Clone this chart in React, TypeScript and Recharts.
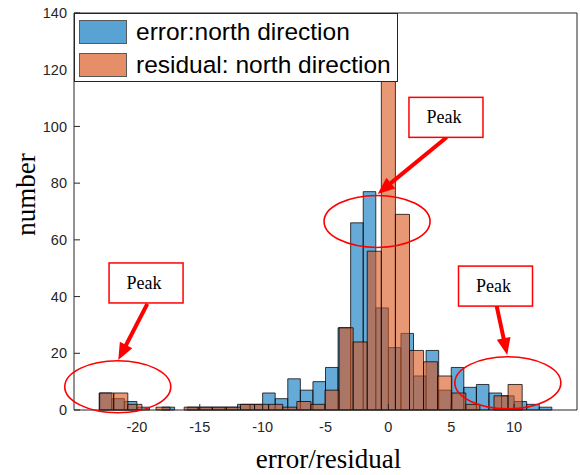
import React from 'react';
import {
  ComposedChart,
  XAxis,
  YAxis,
  Line,
  ReferenceArea,
  ReferenceDot,
  ReferenceLine,
  Legend,
} from 'recharts';

// ---------- data ----------
const errorName = 'error:north direction';
const residualName = 'residual: north direction';

// error histogram: bin lower edges (width 1) and counts
const errorBinStarts = [
  -23, -22, -21, -20, -19, -18, -17, -16, -15, -14, -13, -12, -11, -10, -9, -8, -7, -6,
  -5, -4, -3, -2, -1, 0, 1, 2, 3, 4, 5, 6, 7, 8, 9, 10, 11, 12,
];
const errorBinWidth = 1;
const errorCounts = [
  6, 4, 3, 1, 0, 1, 0, 1, 1, 1, 1, 2, 2, 6, 4, 11, 7, 10,
  15, 29, 66, 77, 36, 22, 27, 12, 21, 7, 15, 8, 9, 6, 5, 3, 2, 1,
];

// residual histogram: bin lower edges (width 1.12) and counts
const residualBinStarts = [
  -22.96, -21.84, -20.72, -19.6, -18.48, -17.36, -16.24, -15.12, -14, -12.88,
  -11.76, -10.64, -9.52, -8.4, -7.28, -6.16, -5.04, -3.92, -2.8, -1.68,
  -0.56, 0.56, 1.68, 2.8, 3.92, 5.04, 6.16, 7.28, 8.4, 9.52,
];
const residualBinWidth = 1.12;
const residualCounts = [
  6, 6, 2, 0, 1, 0, 1, 1, 1, 1,
  2, 2, 2, 1, 3, 2, 7, 29, 24, 56,
  126, 69, 21, 17, 12, 6, 2, 0, 5, 9,
];

const xTicks = [-20, -15, -10, -5, 0, 5, 10];
const yTicks = [0, 20, 40, 60, 80, 100, 120, 140];
const xDomain = [-25, 15];
const yDomain = [0, 140];

// annotations (data coordinates)
const peakLabel = 'Peak';
const peakBoxes = [
  { x: -19.27, y: 44.8 },
  { x: 4.58, y: 103.2 },
  { x: 8.52, y: 43.7 },
];
const peakEllipses = [
  { x: -21.52, y: 8.2 },
  { x: -0.9, y: 66.5 },
  { x: 9.5, y: 9.6 },
];
const peakArrows = [
  { x1: -19.17, y1: 37.4, x2: -21.48, y2: 17.6 },
  { x1: 4.64, y1: 96.2, x2: -0.85, y2: 76.2 },
  { x1: 8.61, y1: 36.7, x2: 9.45, y2: 19.4 },
];

// ---------- styles ----------
const BLUE = '#0072BD';
const ORANGE = '#D95319';
const AXIS = '#262626';
const RED = '#FF0000';

const chartRows = errorBinStarts.map((s, i) => ({ x: s + errorBinWidth / 2, v: errorCounts[i] }));

const PeakBox = (props: any) => {
  const { cx, cy } = props;
  return (
    <g>
      <rect x={cx - 37} y={cy - 20} width={74} height={40} fill="#ffffff" stroke={RED} strokeWidth={1.5} />
      <text
        x={cx - 2}
        y={cy + 6}
        textAnchor="middle"
        fontFamily="Liberation Serif, Times New Roman, serif"
        fontSize={18}
        fill="#000"
      >
        {peakLabel}
      </text>
    </g>
  );
};

const PeakEllipse = (props: any) => {
  const { cx, cy } = props;
  return <ellipse cx={cx} cy={cy} rx={53} ry={26} fill="none" stroke={RED} strokeWidth={1.6} />;
};

const Arrow = (props: any) => {
  const { x1, y1, x2, y2 } = props;
  const dx = x2 - x1;
  const dy = y2 - y1;
  const len = Math.hypot(dx, dy) || 1;
  const ux = dx / len;
  const uy = dy / len;
  const headLen = 17;
  const headW = 7;
  const bx = x2 - ux * headLen;
  const by = y2 - uy * headLen;
  const px = -uy;
  const py = ux;
  return (
    <g>
      <line x1={x1} y1={y1} x2={bx + ux * 2} y2={by + uy * 2} stroke={RED} strokeWidth={4} />
      <polygon
        points={`${x2},${y2} ${bx + px * headW},${by + py * headW} ${bx - px * headW},${by - py * headW}`}
        fill={RED}
      />
    </g>
  );
};

const LegendBox = () => {
  const items = [
    { name: errorName, color: BLUE },
    { name: residualName, color: ORANGE },
  ];
  return (
    <div
      style={{
        position: 'relative',
        boxSizing: 'border-box',
        width: 324,
        height: 69,
        border: `1px solid ${AXIS}`,
        background: '#ffffff',
        fontFamily: 'Liberation Sans, Arial, sans-serif',
      }}
    >
      {items.map((it, i) => (
        <div
          key={it.name}
          style={{
            position: 'absolute',
            left: 4,
            top: 2 + i * 32.6,
            height: 32.6,
            display: 'flex',
            alignItems: 'center',
            whiteSpace: 'nowrap',
          }}
        >
          <div
            style={{
              boxSizing: 'border-box',
              width: 48,
              height: 24,
              background: it.color,
              opacity: 0.65,
              border: '1.5px solid #000',
            }}
          />
          <span style={{ marginLeft: 9, fontSize: 24.5, color: '#000', lineHeight: '32px' }}>{it.name}</span>
        </div>
      ))}
    </div>
  );
};

const tickStyle = { fill: AXIS, fontSize: 14.5, fontFamily: 'Liberation Sans, Arial, sans-serif' };

export default function App() {
  return (
    <div style={{ position: 'absolute', left: 0, top: 0, width: 580, height: 475, background: '#fff' }}>
      <ComposedChart
        width={580}
        height={475}
        data={chartRows}
        margin={{ top: 12, right: 2, bottom: 0, left: 14 }}
      >
        <XAxis
          xAxisId={0}
          type="number"
          dataKey="x"
          domain={xDomain}
          ticks={xTicks}
          allowDataOverflow
          height={65}
          tickSize={-6}
          tickMargin={18}
          axisLine={{ stroke: AXIS }}
          tickLine={{ stroke: AXIS }}
          tick={tickStyle}
          label={(p: any) => {
            const vb = p.viewBox || {};
            return (
              <text
                x={vb.x + vb.width / 2 + 3}
                y={468}
                textAnchor="middle"
                fontFamily="Liberation Serif, Times New Roman, serif"
                fontSize={27}
                fill="#000"
              >
                error/residual
              </text>
            );
          }}
        />
        <XAxis
          xAxisId="top"
          orientation="top"
          type="number"
          dataKey="x"
          domain={xDomain}
          ticks={xTicks}
          allowDataOverflow
          height={1}
          tickSize={-6}
          axisLine={{ stroke: AXIS }}
          tickLine={{ stroke: AXIS }}
          tick={false}
        />
        <YAxis
          yAxisId={0}
          type="number"
          domain={yDomain}
          ticks={yTicks}
          allowDataOverflow
          width={60}
          tickSize={-6}
          tickMargin={13}
          axisLine={{ stroke: AXIS }}
          tickLine={{ stroke: AXIS }}
          tick={tickStyle}
          label={(p: any) => {
            const vb = p.viewBox || {};
            const cx = vb.x + 12;
            const cy = vb.y + vb.height / 2 - 17;
            return (
              <text
                x={cx}
                y={cy}
                transform={`rotate(-90 ${cx} ${cy})`}
                textAnchor="middle"
                dominantBaseline="central"
                fontFamily="Liberation Serif, Times New Roman, serif"
                fontSize={27}
                fill="#000"
              >
                number
              </text>
            );
          }}
        />
        <YAxis
          yAxisId="right"
          orientation="right"
          type="number"
          domain={yDomain}
          ticks={yTicks}
          allowDataOverflow
          width={1}
          tickSize={-6}
          axisLine={{ stroke: AXIS }}
          tickLine={{ stroke: AXIS }}
          tick={false}
        />

        {errorBinStarts.map((s, i) =>
          errorCounts[i] > 0 ? (
            <ReferenceArea
              key={`e${i}`}
              x1={s}
              x2={s + errorBinWidth}
              y1={0}
              y2={errorCounts[i]}
              fill={BLUE}
              fillOpacity={0.6}
              stroke="#000"
              strokeOpacity={0.75}
              strokeWidth={1}
            />
          ) : null
        )}
        {residualBinStarts.map((s, i) =>
          residualCounts[i] > 0 ? (
            <ReferenceArea
              key={`r${i}`}
              x1={s}
              x2={s + residualBinWidth}
              y1={0}
              y2={residualCounts[i]}
              fill={ORANGE}
              fillOpacity={0.6}
              stroke="#000"
              strokeOpacity={0.75}
              strokeWidth={1}
            />
          ) : null
        )}

        <Line
          dataKey="v"
          name={errorName}
          stroke="none"
          dot={false}
          activeDot={false}
          legendType="none"
          isAnimationActive={false}
        />
        <Line
          dataKey="v"
          xAxisId="top"
          yAxisId="right"
          name={residualName}
          stroke="none"
          dot={false}
          activeDot={false}
          legendType="none"
          isAnimationActive={false}
        />

        {peakEllipses.map((e, i) => (
          <ReferenceDot key={`el${i}`} x={e.x} y={e.y} r={1} ifOverflow="visible" shape={PeakEllipse} />
        ))}
        {peakArrows.map((a, i) => (
          <ReferenceLine
            key={`ar${i}`}
            segment={[
              { x: a.x1, y: a.y1 },
              { x: a.x2, y: a.y2 },
            ]}
            ifOverflow="visible"
            shape={Arrow}
          />
        ))}
        {peakBoxes.map((b, i) => (
          <ReferenceDot key={`pb${i}`} x={b.x} y={b.y} r={1} ifOverflow="visible" shape={PeakBox} />
        ))}

        <Legend
          layout="horizontal"
          verticalAlign="middle"
          align="center"
          wrapperStyle={{ position: 'absolute', left: 74, top: 13, width: 324, height: 69 }}
          content={() => <LegendBox />}
        />
      </ComposedChart>
    </div>
  );
}
